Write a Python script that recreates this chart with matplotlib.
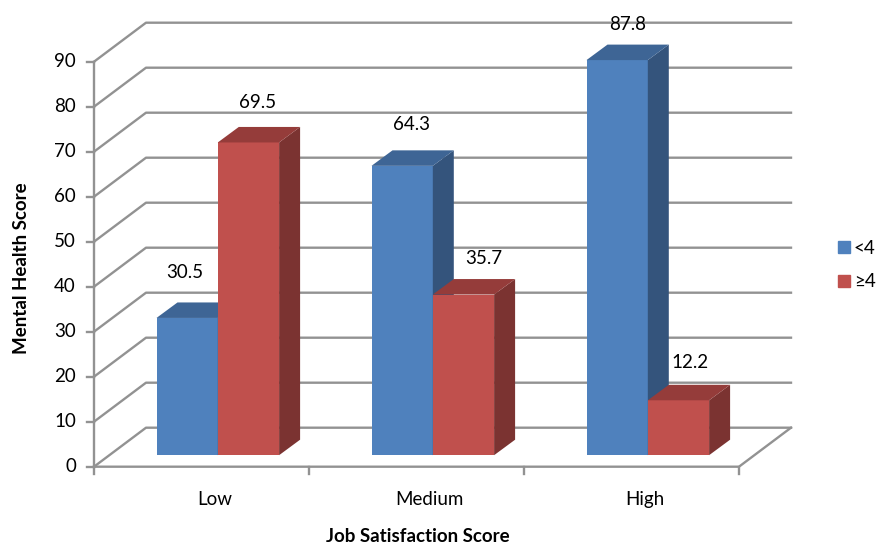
import matplotlib
matplotlib.use("Agg")
import matplotlib.pyplot as plt
from matplotlib.patches import Polygon

plt.rcParams['font.family'] = ['Lato', 'DejaVu Sans']

categories = ["Low", "Medium", "High"]
series_names = ["<4", "≥4"]
low_values = [30.5, 64.3, 87.8]
high_values = [69.5, 35.7, 12.2]
y_ticks = [0, 10, 20, 30, 40, 50, 60, 70, 80, 90]

# colours: front, side, top
blue = ("#4f81bd", "#34547c", "#3e6595")
red = ("#c0504d", "#7b3331", "#953c3a")
grid_col = "#929292"

# one category is 215 px wide, one score unit is 4.5 px high
px_x = 1 / 215.0
px_y = 1 / 4.5
wall_dx = 52 * px_x
wall_dy = 39 * px_y
bar_dx = 21 * px_x
bar_dy = 15.5 * px_y
bar_w = 61.3 * px_x
bar_base = 11.5 * px_y
bar_start = 62.5 * px_x
fs = 13.5
grid_lw = 1.7


def bar3d(ax, x, val, cols):
    top = bar_base + val
    ax.bar(x, val, bar_w, bottom=bar_base, align="edge", color=cols[0], linewidth=0, zorder=3)
    ax.add_patch(Polygon([(x + bar_w, bar_base), (x + bar_w + bar_dx, bar_base + bar_dy),
                          (x + bar_w + bar_dx, top + bar_dy), (x + bar_w, top)],
                         facecolor=cols[1], linewidth=0, zorder=3))
    ax.add_patch(Polygon([(x, top), (x + bar_dx, top + bar_dy),
                          (x + bar_w + bar_dx, top + bar_dy), (x + bar_w, top)],
                         facecolor=cols[2], linewidth=0, zorder=3))


fig = plt.figure(figsize=(8.77, 5.46), dpi=100)
ax = fig.add_axes([0, 0, 1, 1])
ax.set_xlim(-94 * px_x, 783 * px_x)
ax.set_ylim(-79.3 * px_y, 466.7 * px_y)
ax.axis("off")

# walls and floor
n = len(categories)
for t in y_ticks:
    ax.plot([0, wall_dx, n + wall_dx], [t, t + wall_dy, t + wall_dy], color=grid_col, lw=grid_lw, zorder=1)
    ax.plot([-7 * px_x, 0], [t, t], color=grid_col, lw=grid_lw, zorder=1)
    ax.text(-18 * px_x, t, str(t), ha="right", va="center", fontsize=fs)
ax.plot([0, 0], [y_ticks[0], y_ticks[-1]], color=grid_col, lw=grid_lw, zorder=1)
ax.plot([0, n, n + wall_dx], [0, 0, wall_dy], color=grid_col, lw=grid_lw, zorder=1)
for i in range(n + 1):
    ax.plot([i, i], [0, -7 * px_y], color=grid_col, lw=grid_lw, zorder=1)

# bars
for i in range(n):
    x = i + bar_start
    bar3d(ax, x, low_values[i], blue)
    bar3d(ax, x + bar_w, high_values[i], red)
    ax.text(i + 0.56, -33 * px_y, categories[i], ha="center", va="center", fontsize=fs)

# value labels sit off the bars by hand, as in the original
low_nudge = [(-2, 45), (9, 41), (10, 36)]
high_nudge = [(9, 40), (20, 36), (12, 38)]
for i in range(n):
    x = i + bar_start
    ax.annotate(str(low_values[i]), (x + bar_w / 2, bar_base + low_values[i]),
                xytext=(low_nudge[i][0] * 0.72, low_nudge[i][1] * 0.72), textcoords="offset points",
                ha="center", va="center", fontsize=fs, zorder=4)
    ax.annotate(str(high_values[i]), (x + bar_w * 1.5, bar_base + high_values[i]),
                xytext=(high_nudge[i][0] * 0.72, high_nudge[i][1] * 0.72), textcoords="offset points",
                ha="center", va="center", fontsize=fs, zorder=4)

# axis titles
fig.text(21.5 / 877, 1 - 268 / 546, "Mental Health Score", rotation=90, ha="center", va="center",
         fontsize=fs, fontweight="bold")
fig.text(418 / 877, 1 - 536 / 546, "Job Satisfaction Score", ha="center", va="center",
         fontsize=fs, fontweight="bold")

# legend
handles = [plt.Rectangle((0, 0), 1, 1, color=blue[0]), plt.Rectangle((0, 0), 1, 1, color=red[0])]
fig.legend(handles, series_names, loc="center left", bbox_to_anchor=(838 / 877, 1 - 265 / 546),
           frameon=False, fontsize=fs, handlelength=0.64, handleheight=0.64, handletextpad=0.2,
           labelspacing=0.9, borderpad=0, borderaxespad=0)

fig.savefig("out.png", dpi=100)
